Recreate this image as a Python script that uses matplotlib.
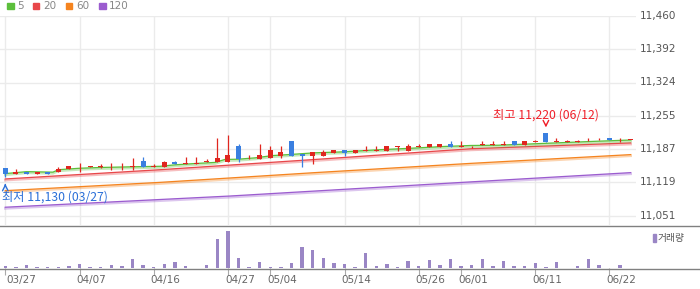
import numpy as np
import matplotlib
matplotlib.use("Agg")
import matplotlib.pyplot as plt
from matplotlib.lines import Line2D
from matplotlib.transforms import offset_copy

# candle data (Korean colours: red = up, blue = down)
opens = [11148, 11136, 11141, 11136, 11141, 11140, 11146, 11150, 11150, 11150,
         11150, 11150, 11150, 11162, 11150, 11150, 11160, 11156, 11156, 11160,
         11160, 11160, 11193, 11166, 11166, 11170, 11174, 11203, 11178, 11174,
         11174, 11180, 11186, 11180, 11184, 11184, 11184, 11191, 11184, 11191,
         11191, 11191, 11197, 11191, 11193, 11195, 11195, 11195, 11203, 11195,
         11201, 11220, 11201, 11201, 11201, 11205, 11205, 11211, 11205, 11206]
closes = [11136, 11141, 11136, 11141, 11136, 11147, 11152, 11151, 11152, 11152,
          11151, 11151, 11152, 11150, 11152, 11160, 11156, 11158, 11158, 11162,
          11168, 11176, 11166, 11168, 11176, 11186, 11182, 11174, 11174, 11182,
          11182, 11186, 11180, 11186, 11186, 11186, 11193, 11193, 11193, 11193,
          11197, 11197, 11191, 11193, 11194, 11197, 11197, 11197, 11195, 11203,
          11203, 11201, 11203, 11203, 11203, 11207, 11207, 11205, 11207, 11207]
highs = [11148, 11147, 11141, 11141, 11141, 11151, 11152, 11158, 11153, 11156,
         11158, 11158, 11169, 11172, 11156, 11162, 11162, 11172, 11172, 11168,
         11211, 11217, 11197, 11176, 11197, 11193, 11193, 11203, 11178, 11182,
         11186, 11186, 11186, 11186, 11193, 11193, 11193, 11193, 11197, 11197,
         11197, 11197, 11203, 11203, 11194, 11203, 11203, 11203, 11203, 11203,
         11207, 11220, 11211, 11207, 11207, 11211, 11211, 11211, 11211, 11207]
lows = [11130, 11136, 11136, 11136, 11136, 11140, 11146, 11140, 11150, 11149,
        11145, 11145, 11145, 11150, 11150, 11150, 11156, 11156, 11156, 11160,
        11160, 11160, 11160, 11166, 11166, 11170, 11170, 11174, 11150, 11156,
        11174, 11180, 11174, 11180, 11184, 11184, 11184, 11184, 11184, 11191,
        11191, 11191, 11191, 11191, 11190, 11195, 11195, 11195, 11195, 11195,
        11201, 11201, 11201, 11201, 11201, 11203, 11205, 11205, 11201, 11206]
volumes = [2300, 1300, 3300, 1300, 1300, 1300, 2300, 4300, 1300, 1300,
           3300, 2300, 8700, 3300, 1300, 4300, 6300, 2300, 0, 3300,
           29300, 36700, 10300, 1300, 6300, 1300, 1300, 5300, 21300, 18300,
           10300, 5300, 4300, 1300, 15300, 2300, 4300, 1300, 7300, 2300,
           8300, 3300, 9300, 2300, 3300, 9300, 2300, 7300, 2300, 2300,
           5300, 1300, 6300, 0, 2300, 9300, 3300, 0, 3300, 0]

# moving averages at sample positions
ma5_x = [0, 2, 4.5, 5, 7, 9, 12, 14.6, 16, 17.9, 19.8, 20.7, 22, 23.6, 25.2, 26.7,
         29.2, 31.9, 35.1, 38.2, 41.3, 43.9, 46.5, 49.7, 52.8, 55.9, 59]
ma5_y = [11137, 11141, 11140, 11145, 11148, 11149.6, 11151, 11152, 11155, 11157.7,
         11160, 11166, 11166.6, 11169.4, 11174, 11176, 11179.7, 11181.7, 11185.8,
         11189, 11192.6, 11194.7, 11195.3, 11198, 11200.8, 11203.5, 11206]
ma20_x = [0, 14.6, 29.2, 43.9, 59]
ma20_y = [11126, 11145, 11166, 11188, 11200]
ma60_x = [0, 14.6, 29.2, 43.9, 59]
ma60_y = [11102, 11119, 11139, 11158, 11176]
ma120_x = [0, 21.2, 43.9, 59]
ma120_y = [11068, 11091, 11120, 11139]

tick_idx = [0, 7, 14, 21, 25, 32, 39, 43, 50, 57]
tick_labels = ['03/27', '04/07', '04/16', '04/27', '05/04', '05/14', '05/26',
               '06/01', '06/11', '06/22']
y_ticks = [11051, 11119, 11187, 11255, 11324, 11392, 11460]

legend_names = ['5', '20', '60', '120']
ma_colors = ['#5cbf3c', '#e8474a', '#f5841f', '#9b5ccf']
up_col = '#e0261f'
down_col = '#3a7fe0'
vol_col = '#9a86c5'
grid_col = '#ebebeb'

W, H = 700, 289
fig = plt.figure(figsize=(7, 2.89), dpi=100)

def px_axes(x0, y0, x1, y1):
    return fig.add_axes([x0 / W, 1 - y1 / H, (x1 - x0) / W, (y1 - y0) / H])

ax = px_axes(0, 16, 636, 225)
vax = px_axes(0, 227, 636, 268)

n = len(opens)
x = np.arange(n)

# price panel
ax.set_xlim(-0.5, n - 0.5)
ax.set_ylim(11031.5, 11460.5)
for s in ax.spines.values():
    s.set_visible(False)
ax.set_xticks(tick_idx)
ax.set_yticks(y_ticks)
ax.tick_params(length=0, labelbottom=False, labelleft=False)
ax.grid(True, color=grid_col, lw=1)
ax.set_axisbelow(True)

halo = offset_copy(ax.transData, fig=fig, x=0, y=-0.9, units='points')
ma_list = [(ma120_x, ma120_y, ma_colors[3]), (ma60_x, ma60_y, ma_colors[2]),
           (ma20_x, ma20_y, ma_colors[1]), (ma5_x, ma5_y, ma_colors[0])]
for xv, yv, c in ma_list:
    ax.plot(xv, yv, color=c, lw=1.8, alpha=0.35, transform=halo, zorder=2)
    ax.plot(xv, yv, color=c, lw=0.9, zorder=2)

for i in range(n):
    o, c, h, l = opens[i], closes[i], highs[i], lows[i]
    col = up_col if c >= o else down_col
    ax.vlines(i, l, h, color=col, lw=0.9, zorder=3)
    bot = min(o, c)
    ht = max(abs(c - o), 1.5)
    ax.bar(i, ht, bottom=bot, width=0.48, color=col, lw=0, zorder=3)

for v in y_ticks:
    ax.text(640 / 636 * n - 0.5, v, f"{v:,}", ha='left', va='center',
            fontsize=7.5, color='#555555', clip_on=False)

# high / low annotations
kfont = ['Noto Sans CJK KR', 'DejaVu Sans']
hi_i = int(np.argmax(highs))
lo_i = int(np.argmin(lows))
ax.annotate('', xy=(hi_i, highs[hi_i] + 6), xytext=(hi_i, highs[hi_i] + 24),
            arrowprops=dict(arrowstyle='->', color='#f0202a', lw=1))
ax.text(hi_i, 11258, f"최고 {highs[hi_i]:,} (06/12)", ha='center',
        va='center', fontsize=8.8, color='#f0202a', family=kfont)
ax.annotate('', xy=(lo_i, lows[lo_i] - 8), xytext=(lo_i, lows[lo_i] - 24),
            arrowprops=dict(arrowstyle='->', color='#2a6fd8', lw=1))
ax.text(-0.3, 11089, f"최저 {lows[lo_i]:,} ({tick_labels[0]})", ha='left',
        va='center', fontsize=8.8, color='#2a6fd8', family=kfont)

# volume panel
vax.bar(x, volumes, width=0.32, color=vol_col, lw=0)
vax.set_xlim(-0.5, n - 0.5)
vax.set_ylim(0, max(volumes) * 1.12)
vax.patch.set_alpha(0)
for s in vax.spines.values():
    s.set_visible(False)
vax.set_yticks([])
vax.set_xticks(tick_idx)
vax.set_xticklabels([])
vax.tick_params(axis='x', length=5, color='#aaaaaa', width=0.8)
for k, (ti, lab) in enumerate(zip(tick_idx, tick_labels)):
    xp = (5.3 + ti * 10.6 - 3) / W
    if k == 0:
        xp = 6 / W
    fig.text(xp, 1 - 280 / H, lab, ha='left', va='center', fontsize=7.5,
             color='#666666')
fig.patches.append(plt.Rectangle((652.7 / W, 1 - 242 / H), 3.3 / W, 8 / H,
                                 transform=fig.transFigure, color=vol_col))
fig.text(658 / W, 1 - 238 / H, '거래량', ha='left', va='center', fontsize=7,
         color='#555555', family=kfont)

# panel separator lines across full width
for yy in (225.8, 268.8):
    fig.add_artist(Line2D([0, 1], [1 - yy / H, 1 - yy / H], transform=fig.transFigure,
                          color='#808080', lw=1.0))

# legend
lx = [7.3, 33, 66, 99.3]
for xx, name, c in zip(lx, legend_names, ma_colors):
    fig.patches.append(plt.Rectangle((xx / W, 1 - 9.3 / H), 6.3 / W, 6.6 / H,
                                     transform=fig.transFigure, color=c))
    fig.text((xx + 10) / W, 1 - 6 / H, name, ha='left', va='center', fontsize=7.5,
             color='#888888')

fig.savefig('out.png', dpi=100)
